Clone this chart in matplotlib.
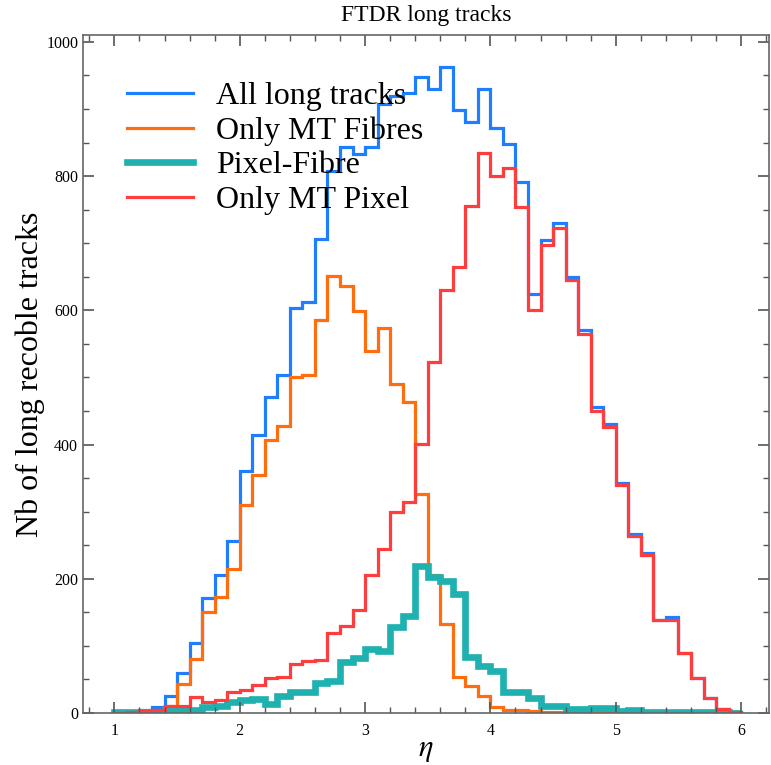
import matplotlib
matplotlib.use("Agg")
import matplotlib.pyplot as plt
import numpy as np
from matplotlib.ticker import MultipleLocator

# bin edges in eta (0.1 wide, 1 -> 6)
bin_edges = np.round(np.arange(1.0, 6.05, 0.1), 1)

# all long tracks
all_long = [1, 2, 4, 9, 25, 59, 104, 172, 206, 257,
            360, 414, 471, 504, 603, 613, 707, 808, 843, 833,
            843, 908, 920, 924, 948, 930, 962, 898, 880, 930,
            871, 848, 791, 625, 705, 730, 650, 570, 456, 431,
            342, 267, 238, 139, 143, 90, 52, 23, 6, 2]

# only MT fibres
only_fibres = [0, 1, 2, 5, 10, 43, 80, 151, 173, 214,
               310, 355, 407, 427, 501, 504, 586, 651, 637, 599,
               540, 574, 490, 463, 326, 206, 133, 54, 40, 25,
               9, 5, 4, 3, 2, 2, 2, 2, 2, 1,
               0, 0, 0, 0, 0, 0, 0, 0, 0, 0]

# pixel-fibre
pixel_fibre = [1, 1, 2, 2, 4, 4, 4, 9, 11, 16,
               19, 21, 14, 26, 31, 32, 44, 47, 76, 82,
               95, 92, 128, 145, 219, 202, 196, 177, 83, 70,
               62, 31, 31, 23, 11, 10, 6, 6, 8, 7,
               3, 4, 2, 2, 2, 2, 1, 2, 1, 0]

# only MT pixel
only_pixel = [0, 1, 3, 5, 11, 11, 24, 16, 20, 31,
              34, 41, 52, 53, 73, 77, 79, 119, 129, 153,
              205, 245, 299, 314, 401, 523, 630, 665, 756, 834,
              800, 812, 754, 601, 697, 722, 645, 565, 450, 426,
              340, 264, 236, 139, 139, 89, 52, 23, 6, 2]

plt.rcParams['font.family'] = ['Liberation Serif', 'DejaVu Serif']
plt.rcParams['mathtext.fontset'] = 'stix'

fig = plt.figure(figsize=(7.71, 7.65), dpi=100)
ax = fig.add_axes([0.1077, 0.068, 0.8893, 0.886])

ax.stairs(all_long, bin_edges, color='#1f7dff', lw=2.3, label='All long tracks')
ax.stairs(only_fibres, bin_edges, color='#ff6d0f', lw=2.3, label='Only MT Fibres')
ax.stairs(pixel_fibre, bin_edges, color='#1fb0b0', lw=4.8, label='Pixel-Fibre')
ax.stairs(only_pixel, bin_edges, color='#ff3d3d', lw=2.3, label='Only MT Pixel')

# axes:
ax.set_xlim(0.75, 6.22)
ax.set_ylim(0, 1010)
ax.xaxis.set_major_locator(MultipleLocator(1))
ax.xaxis.set_minor_locator(MultipleLocator(0.2))
ax.yaxis.set_major_locator(MultipleLocator(200))
ax.yaxis.set_minor_locator(MultipleLocator(50))
ax.tick_params(which='both', direction='in', top=True, right=True,
               color='#555555', labelsize=11.5)
ax.tick_params(which='major', length=8, width=1.2)
ax.tick_params(axis='x', which='major', pad=7)
ax.tick_params(which='minor', length=4, width=1.0)
for sp in ax.spines.values():
    sp.set_color('#666666')
    sp.set_linewidth(1.2)

# labels:
ax.set_title("FTDR long tracks", fontsize=17, pad=10)
ax.set_xlabel(r"$\eta$", fontsize=22, labelpad=-3)
ax.set_ylabel("Nb of long recoble tracks", fontsize=23, labelpad=1)

leg = ax.legend(loc='upper left', bbox_to_anchor=(0.045, 0.95), frameon=False,
                fontsize=23, handlelength=2.07, handletextpad=0.72,
                labelspacing=0.16, borderaxespad=0)

# saving:
fig.savefig("out.png", dpi=100)
